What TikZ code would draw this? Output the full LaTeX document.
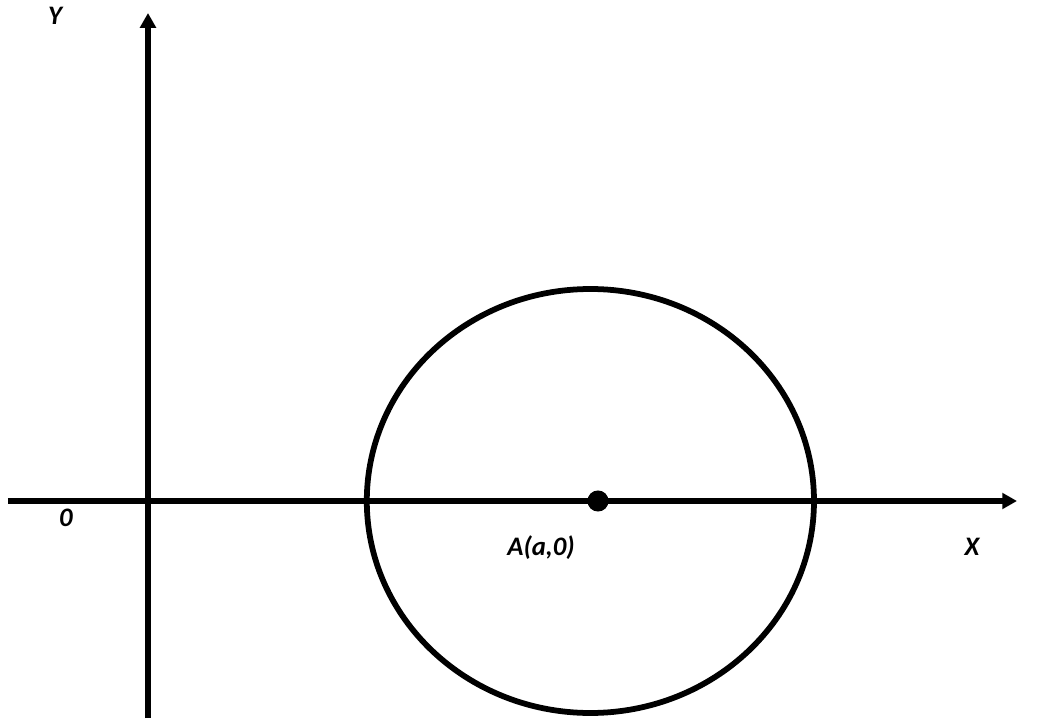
\documentclass[tikz,border=0pt]{standalone}
\usepackage{fontspec}
\setmainfont{Carlito}
\usepackage{xcolor}
\usetikzlibrary{arrows.meta, positioning}
\definecolor{InkBlack}{RGB}{0,0,0}

\begin{document}
\begin{tikzpicture}[
    axis/.style={InkBlack, line width=3.9pt,
                 -{Triangle[length=10.5pt, width=11pt]}},
    lbl/.style={font=\fontsize{19}{22}\selectfont\bfseries\itshape, inner sep=0pt}
  ]
\def\rx{5.59}
\def\ry{5.30}

% Fix the page size
\useasboundingbox (-3.7,-5.425) rectangle (22.625,12.525);

% Axes
\coordinate (O) at (0,0);
\coordinate (xstart) at (-3.5,0);
\coordinate (xend) at (21.725,0);
\coordinate (ystart) at (0,-5.425);
\coordinate (yend) at (0,12.2);
\draw[axis] (xstart) -- (xend);
\draw[axis] (ystart) -- (yend);

% Circle round A
\coordinate (C) at (11.06,0);
\draw[InkBlack, line width=4.1pt] (C) ellipse [x radius=\rx, y radius=\ry];

% Centre point
\node[circle, fill=InkBlack, inner sep=0pt, minimum size=15pt] (A) at (11.25,0) {};

% Labels
\node[lbl] (ylbl) at (-2.325,12.125) {Y};
\node[lbl] (olbl) at (-2.05,-0.425) {0};
\node[lbl] (albl) at (9.825,-1.175) {A(a,0)};
\node[lbl] (xlbl) at (20.6,-1.15) {X};

\end{tikzpicture}
\end{document}
